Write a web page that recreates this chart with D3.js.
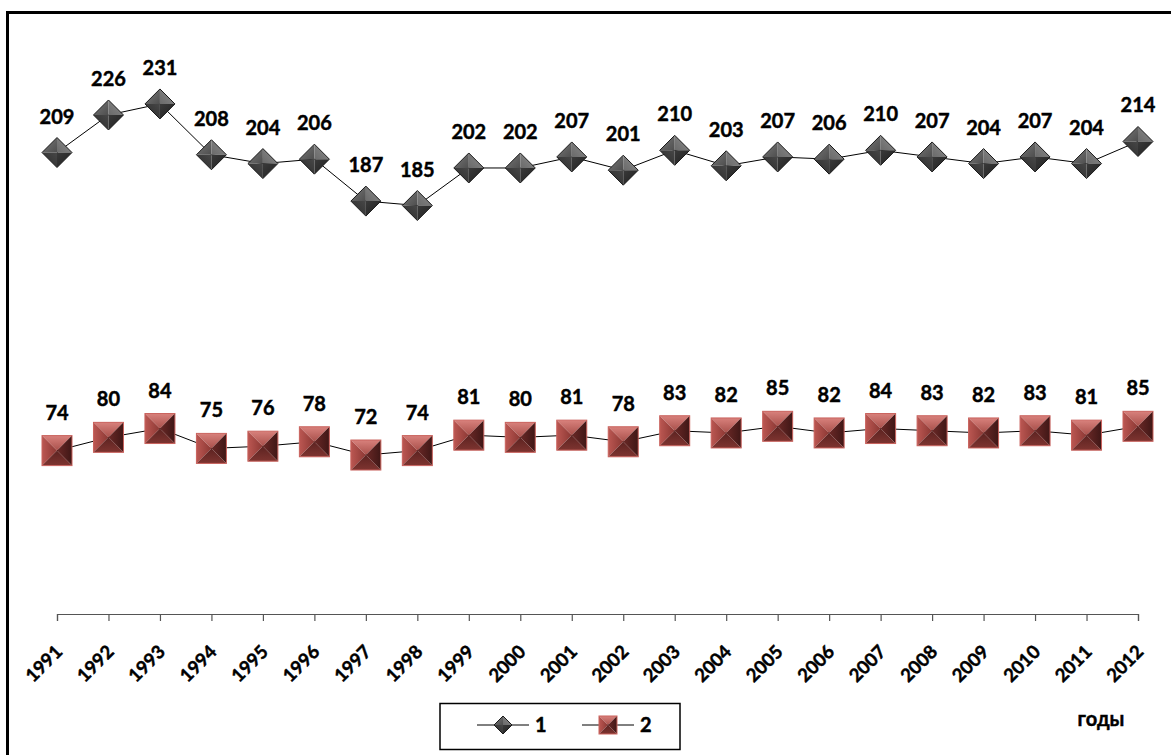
<!DOCTYPE html>
<html>
<head>
<meta charset="utf-8">
<script src="https://cdn.jsdelivr.net/npm/d3@7"></script>
<style>
  html, body { margin: 0; padding: 0; background: #fff; }
  svg { display: block; }
  text { font-family: Lato, "Open Sans", "DejaVu Sans", sans-serif; font-weight: bold; fill: #000;
         stroke: #000; stroke-width: 0.45px; paint-order: stroke; }
</style>
</head>
<body>
<svg id="chart" width="1171" height="755"></svg>
<script>
// Years on the category axis
const years = ["1991","1992","1993","1994","1995","1996","1997","1998","1999","2000","2001",
               "2002","2003","2004","2005","2006","2007","2008","2009","2010","2011","2012"];
// Series 1 (diamond markers)
const series1 = [209,226,231,208,204,206,187,185,202,202,207,201,210,203,207,206,210,207,204,207,204,214];
// Series 2 (square markers)
const series2 = [74,80,84,75,76,78,72,74,81,80,81,78,83,82,85,82,84,83,82,83,81,85];
const seriesNames = ["1", "2"];
const axisTitle = "годы";

const svg = d3.select("#chart");

const x = d3.scalePoint().domain(years).range([57, 1138]);
const y = d3.scaleLinear().domain([0, 250]).range([614, 62]);

// Outer frame (top and left edges)
svg.append("path")
  .attr("d", "M7.5,755V12.5H1171")
  .attr("fill", "none").attr("stroke", "#000").attr("stroke-width", 3);

// Gradients for the bevelled markers
const defs = svg.append("defs");
function grad(id, c1, c2, x1, y1, x2, y2) {
  const g = defs.append("linearGradient").attr("id", id)
    .attr("x1", x1).attr("y1", y1).attr("x2", x2).attr("y2", y2);
  g.append("stop").attr("offset", "0%").attr("stop-color", c1);
  g.append("stop").attr("offset", "100%").attr("stop-color", c2);
}
// square facets
grad("sqTop", "#d8817c", "#a9504b", 0, 0, 0, 1);
grad("sqLeft", "#bb5752", "#8c3834", 0, 0, 1, 0);
grad("sqRight", "#6a2826", "#3f1716", 0, 0, 1, 0);
grad("sqBottom", "#5c2321", "#7e3430", 0, 0, 0, 1);
// diamond facets
grad("dmUL", "#7a7a7a", "#4e4e4e", 0, 0, 1, 1);
grad("dmUR", "#6a6a6a", "#8c8c8c", 0, 1, 1, 0);
grad("dmLR", "#3a3a3a", "#1e1e1e", 0, 0, 1, 1);
grad("dmLL", "#2a2a2a", "#474747", 0, 1, 1, 0);

function drawSquare(g, s) {
  g.append("path").attr("d", `M${-s},${-s}L${s},${-s}L0,0Z`).attr("fill", "url(#sqTop)");
  g.append("path").attr("d", `M${-s},${-s}L0,0L${-s},${s}Z`).attr("fill", "url(#sqLeft)");
  g.append("path").attr("d", `M${s},${-s}L${s},${s}L0,0Z`).attr("fill", "url(#sqRight)");
  g.append("path").attr("d", `M${-s},${s}L0,0L${s},${s}Z`).attr("fill", "url(#sqBottom)");
  g.append("rect").attr("x", -s).attr("y", -s).attr("width", 2 * s).attr("height", 2 * s)
    .attr("fill", "none").attr("stroke", "#c9625d").attr("stroke-width", 1);
}
function drawDiamond(g, s) {
  g.append("path").attr("d", `M${-s},0L0,${-s}L0,0Z`).attr("fill", "url(#dmUL)");
  g.append("path").attr("d", `M0,${-s}L${s},0L0,0Z`).attr("fill", "url(#dmUR)");
  g.append("path").attr("d", `M${s},0L0,${s}L0,0Z`).attr("fill", "url(#dmLR)");
  g.append("path").attr("d", `M0,${s}L${-s},0L0,0Z`).attr("fill", "url(#dmLL)");
  g.append("path").attr("d", `M${-s},0L0,${-s}L${s},0L0,${s}Z`)
    .attr("fill", "none").attr("stroke", "#1a1a1a").attr("stroke-width", 1);
}

// Category axis
const axis = svg.append("g")
  .attr("transform", `translate(0,${y(0)})`)
  .call(d3.axisBottom(x).tickSize(7).tickSizeOuter(7).tickPadding(0));
axis.select(".domain").attr("stroke", "#555").attr("stroke-width", 1.2);
axis.selectAll(".tick line").attr("stroke", "#555").attr("stroke-width", 1.2);
axis.selectAll(".tick text")
  .attr("x", 0).attr("y", 0).attr("dy", 0)
  .attr("text-anchor", "end")
  .attr("transform", "translate(6,39) rotate(-45)")
  .style("font-family", "Lato, 'Open Sans', sans-serif")
  .style("font-weight", "bold")
  .style("font-size", "18.5px")
  .attr("fill", "#000");

const line = d3.line().x((d, i) => x(years[i])).y(d => y(d));

const seriesList = [
  { name: seriesNames[0], values: series1, draw: drawDiamond, size: 15, labelOff: 29 },
  { name: seriesNames[1], values: series2, draw: drawSquare, size: 15, labelOff: 31 }
];

seriesList.forEach(s => {
  svg.append("path").datum(s.values)
    .attr("d", line).attr("fill", "none").attr("stroke", "#000").attr("stroke-width", 1);

  svg.append("g").selectAll("g").data(s.values).join("g")
    .attr("transform", (d, i) => `translate(${x(years[i])},${y(d)})`)
    .each(function () { s.draw(d3.select(this), s.size); });

  svg.append("g").selectAll("text").data(s.values).join("text")
    .attr("x", (d, i) => x(years[i]))
    .attr("y", d => y(d) - s.labelOff)
    .attr("text-anchor", "middle")
    .style("font-size", "20px")
    .text(d => d);
});

// Axis title
svg.append("text").attr("x", 1101).attr("y", 726)
  .attr("text-anchor", "middle").style("font-size", "20px").text(axisTitle);

// Legend
const legend = svg.append("g");
legend.append("rect").attr("x", 440).attr("y", 703.5).attr("width", 240).attr("height", 46)
  .attr("fill", "#fff").attr("stroke", "#000").attr("stroke-width", 1.5);
const legendItems = [
  { name: seriesNames[0], x0: 477, draw: drawDiamond, size: 9 },
  { name: seriesNames[1], x0: 582, draw: drawSquare, size: 9 }
];
legendItems.forEach(it => {
  legend.append("line").attr("x1", it.x0).attr("x2", it.x0 + 52)
    .attr("y1", 725).attr("y2", 725).attr("stroke", "#000").attr("stroke-width", 1);
  const m = legend.append("g").attr("transform", `translate(${it.x0 + 26},725)`);
  it.draw(m, it.size);
  legend.append("text").attr("x", it.x0 + 58).attr("y", 732)
    .style("font-size", "20px").text(it.name);
});
</script>
</body>
</html>
